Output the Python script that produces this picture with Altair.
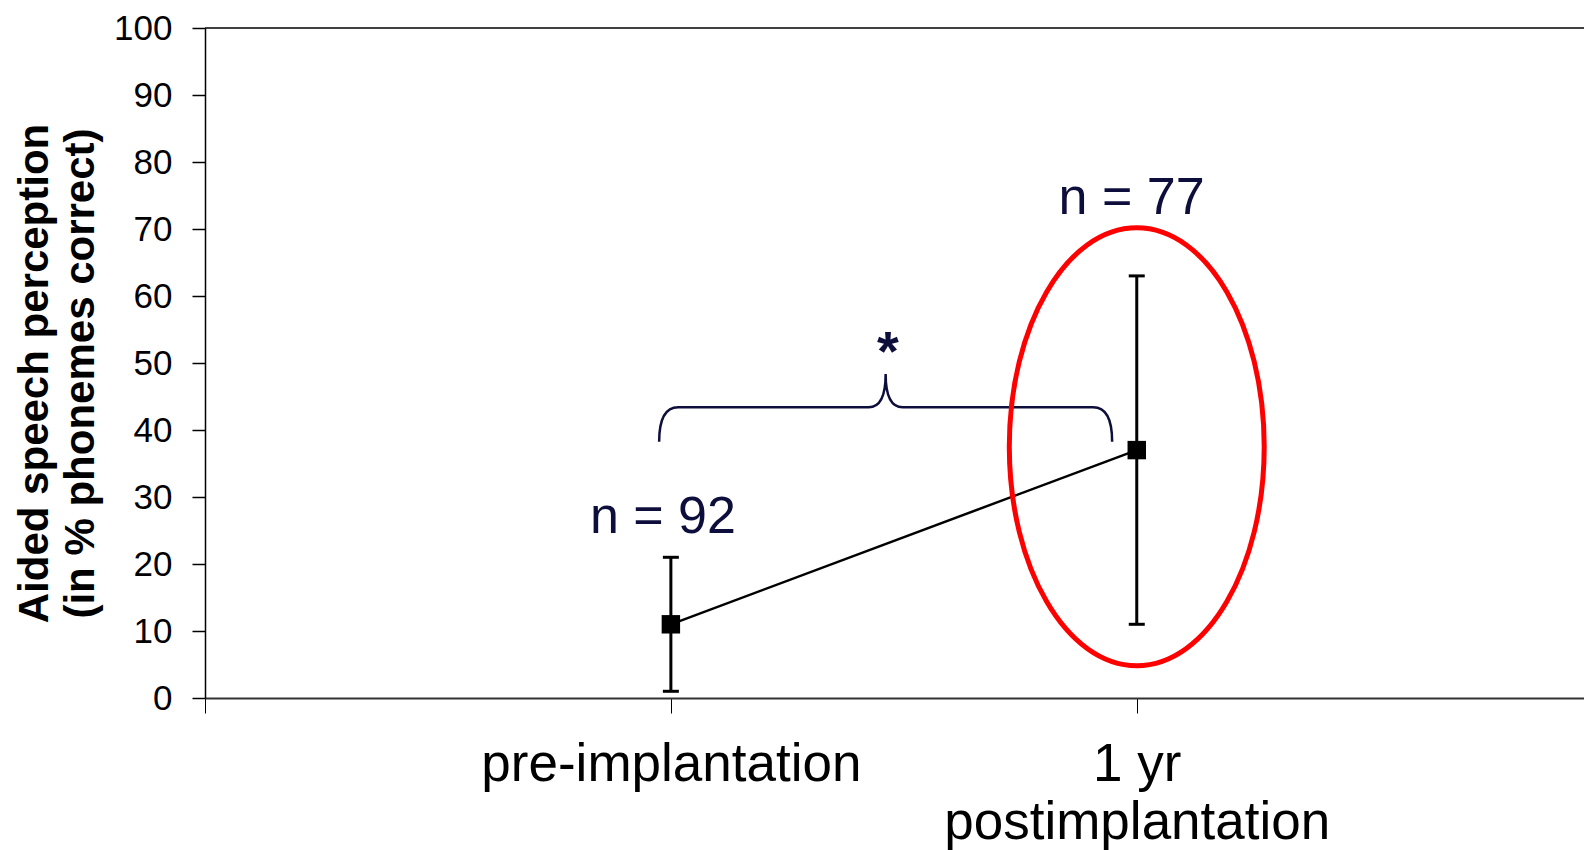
import json
import altair as alt
import pandas as pd

# ---- data ----
categories = ["pre-implantation", "1 yr\npostimplantation"]
x_pos = [1, 2]
means = [11, 37]
err_low = [1, 11]
err_high = [21, 63]

n_labels = ["n = 92", "n = 77"]
n_label_x = [0.983, 1.989]
n_label_y = [24.6, 72.3]

y_ticks = list(range(0, 101, 10))
x_ticks = [0, 1, 2]

sig_text = ["*"]
sig_x = [1.466]
sig_y = [49.0]

brace_x = [1.461]
brace_y = [43.4]

highlight_x = [2]
highlight_y = [37.5]

y_title = ["Aided speech perception", "(in % phonemes correct)"]

# ---- layout ----
W = 1379
H = 670
FONT = "Liberation Sans"
NAVY = "#0e0e3c"

x_scale = alt.Scale(domain=[0, 2.96], nice=False, zero=False)
y_scale = alt.Scale(domain=[0, 100], nice=False)

# label expression from the category list
parts = []
for xv, cat in zip(x_pos, categories):
    lines = cat.split("\n")
    lab = json.dumps(lines) if len(lines) > 1 else json.dumps(lines[0])
    parts.append(f"datum.value == {xv} ? {lab} : ")
label_expr = "".join(parts) + "''"

x_axis = alt.Axis(
    values=x_ticks, labelExpr=label_expr, title=None, grid=False,
    tickSize=15, tickWidth=1, tickColor="black",
    domainColor="#333333", domainWidth=2,
    labelFont=FONT, labelFontSize=53, labelColor="black",
    labelPadding=25, labelLineHeight=58, labelBaseline="top",
    labelFlush=False, labelOverlap=False, labelAlign="center", labelLimit=0,
)
y_axis = alt.Axis(
    values=y_ticks, grid=False, title=y_title,
    tickSize=13, tickWidth=1.5, tickColor="black",
    domainColor="black", domainWidth=1.5,
    labelFont=FONT, labelFontSize=35, labelColor="black", labelPadding=20,
    labelFlush=False, labelOverlap=False,
    titleFont=FONT, titleFontSize=42, titleFontWeight="bold", titleColor="black",
    titleAngle=270, titleAlign="center", titleBaseline="alphabetic",
    titleX=-158, titleY=345, titleLineHeight=46, titleLimit=0,
)


def X(field):
    return alt.X(field, type="quantitative", scale=x_scale, axis=x_axis)


def Y(field):
    return alt.Y(field, type="quantitative", scale=y_scale, axis=y_axis)


df = pd.DataFrame({"x": x_pos, "category": categories, "mean": means,
                   "low": err_low, "high": err_high})
ann_n = pd.DataFrame({"x": n_label_x, "y": n_label_y, "t": n_labels})
ann_sig = pd.DataFrame({"x": sig_x, "y": sig_y, "t": sig_text})
ann_brace = pd.DataFrame({"x": brace_x, "y": brace_y})
ann_hl = pd.DataFrame({"x": highlight_x, "y": highlight_y})
top_df = pd.DataFrame({"y": [100]})

ELLIPSE = "M -0.582 0 A 0.582 1 0 1 0 0.582 0 A 0.582 1 0 1 0 -0.582 0 Z"
BRACE = ("M -1 0.152 C -1 0.05 -0.97 0 -0.916 0 L -0.075 0 "
         "C -0.02 0 0 -0.06 0 -0.147 C 0 -0.06 0.02 0 0.075 0 "
         "L 0.916 0 C 0.97 0 1 0.05 1 0.152")
CAP = "M -1 0 L 1 0"

top_rule = alt.Chart(top_df).mark_rule(color="black", strokeWidth=1.5).encode(
    y=Y("y"), x=alt.value(0), x2=alt.value(W))

err = alt.Chart(df).mark_rule(color="black", strokeWidth=3).encode(
    x=X("x"), y=Y("low"), y2="high")

cap_lo = alt.Chart(df).mark_point(shape=CAP, filled=False, size=256, color="black",
                                  strokeWidth=3, opacity=1).encode(x=X("x"), y=Y("low"))
cap_hi = alt.Chart(df).mark_point(shape=CAP, filled=False, size=256, color="black",
                                  strokeWidth=3, opacity=1).encode(x=X("x"), y=Y("high"))

line = alt.Chart(df).mark_line(color="black", strokeWidth=2.5).encode(
    x=X("x"), y=Y("mean"))

pts = alt.Chart(df).mark_point(shape="square", filled=True, size=340, color="black",
                               opacity=1).encode(x=X("x"), y=Y("mean"))

ellipse = alt.Chart(ann_hl).mark_point(shape=ELLIPSE, filled=False, size=191844,
                                       color="#ff0000", strokeWidth=5, opacity=1).encode(
    x=X("x"), y=Y("y"))

brace = alt.Chart(ann_brace).mark_point(shape=BRACE, filled=False, size=205209,
                                        color=NAVY, strokeWidth=2.5, opacity=1).encode(
    x=X("x"), y=Y("y"))

n_text = alt.Chart(ann_n).mark_text(font=FONT, fontSize=52, color=NAVY,
                                    align="center", baseline="alphabetic").encode(
    x=X("x"), y=Y("y"), text="t:N")

sig = alt.Chart(ann_sig).mark_text(font=FONT, fontSize=56, fontWeight="bold", color=NAVY,
                                   align="center", baseline="alphabetic").encode(
    x=X("x"), y=Y("y"), text="t:N")

chart = alt.layer(
    top_rule, brace, line, err, cap_lo, cap_hi, pts, ellipse, n_text, sig
).properties(
    width=W, height=H,
    autosize=alt.AutoSizeParams(type="none"),
    padding={"left": 197, "top": 20, "right": 0, "bottom": 152},
    background="white",
).configure_view(stroke=None)

chart.save("out.html", embed_options={"renderer": "svg", "actions": False})
